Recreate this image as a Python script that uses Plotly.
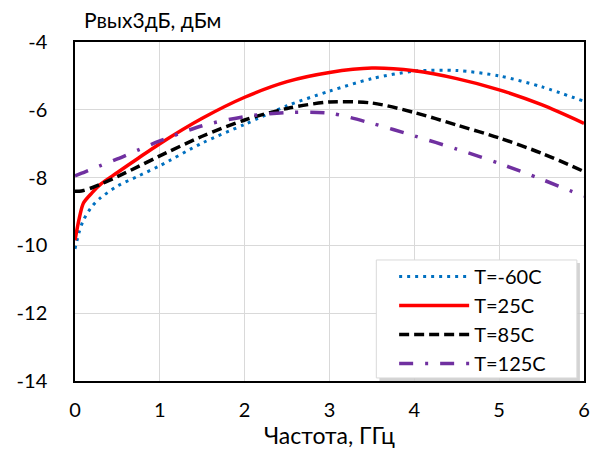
import plotly.graph_objects as go

freq = [0, 0.05, 0.1, 0.2, 0.3, 0.5, 0.75, 1, 1.5, 2, 2.5, 3, 3.5, 4, 4.5, 5, 5.5, 6]
t_m60 = [-10.1, -9.6, -9.25, -8.85, -8.6, -8.25, -7.95, -7.65, -6.98, -6.43, -5.88, -5.45, -5.08, -4.86, -4.84, -5.0, -5.32, -5.75]
t_25 = [-9.85, -9.2, -8.75, -8.45, -8.2, -7.85, -7.42, -7.0, -6.25, -5.63, -5.17, -4.9, -4.77, -4.85, -5.08, -5.41, -5.85, -6.4]
t_85 = [-8.4, -8.4, -8.38, -8.3, -8.2, -7.97, -7.67, -7.36, -6.78, -6.3, -5.96, -5.77, -5.8, -6.08, -6.45, -6.83, -7.28, -7.82]
t_125 = [-7.95, -7.9, -7.85, -7.75, -7.65, -7.45, -7.18, -6.92, -6.47, -6.2, -6.08, -6.1, -6.4, -6.77, -7.16, -7.58, -8.05, -8.55]

names = ["T=-60C", "T=25C", "T=85C", "T=125C"]
colors = ["#0070C0", "#FF0000", "#000000", "#7030A0"]
dashes = ["3px,5px", "solid", "10px,5px", "14px,12px,3px,12px"]
widths = [3, 3.5, 3.5, 3.5]

x_ticks = [0, 1, 2, 3, 4, 5, 6]
x_labels = ["0", "1", "2", "3", "4", "5", "6"]
y_ticks = [-14, -12, -10, -8, -6, -4]
y_labels = ["-14", "-12", "-10", "-8", "-6", "-4"]

FONT = "Lato"

fig = go.Figure()
for ys, n, c, d, w in zip([t_m60, t_25, t_85, t_125], names, colors, dashes, widths):
    fig.add_trace(go.Scatter(x=freq, y=ys, name=n, mode="lines",
                             line=dict(color=c, dash=d, width=w, shape="spline", smoothing=0.8)))

# legend frame (decoration, in axis-domain fractions)
box = dict(x0=0.592, x1=0.986, y0=0.009, y1=0.357)
shadow_off = (0.006, 0.009)
shapes = [
    dict(type="rect", xref="x domain", yref="y domain",
         x0=box["x0"] + shadow_off[0], x1=box["x1"] + shadow_off[0],
         y0=box["y0"] - shadow_off[1], y1=box["y1"] - shadow_off[1],
         fillcolor="#C8C8C8", line=dict(width=0), layer="above", opacity=0.8),
    dict(type="rect", xref="x domain", yref="y domain", **box,
         fillcolor="white", line=dict(color="#D9D9D9", width=1), layer="above"),
]

fig.update_layout(
    width=598, height=455,
    margin=dict(l=75, r=8, t=42, b=74),
    paper_bgcolor="white", plot_bgcolor="white",
    font=dict(family=FONT, size=20, color="#000000"),
    showlegend=True,
    legend=dict(x=0.627, y=0.366, xanchor="left", yanchor="top",
                bgcolor="rgba(0,0,0,0)", borderwidth=0,
                font=dict(family=FONT, size=20, color="#000"),
                itemwidth=70, tracegroupgap=0),
    shapes=shapes,
    annotations=[dict(text="Рвых3дБ, дБм", xref="paper", yref="paper",
                      x=0.014, y=1.065, xanchor="left", yanchor="middle",
                      showarrow=False, font=dict(family=FONT, size=21, color="#000"))],
)
fig.update_xaxes(range=[0, 6], tickvals=x_ticks, ticktext=x_labels, showgrid=True, gridcolor="#D9D9D9", gridwidth=1,
                 showline=True, linecolor="black", linewidth=1.5, mirror=True, zeroline=False,
                 ticks="", ticklabelstandoff=10,
                 title=dict(text="Частота, ГГц", font=dict(family=FONT, size=23), standoff=2))
fig.update_yaxes(range=[-14, -4], tickvals=y_ticks, ticktext=y_labels, showgrid=True, gridcolor="#D9D9D9", gridwidth=1,
                 showline=True, linecolor="black", linewidth=1.5, mirror=True, zeroline=False,
                 ticks="", ticklabelstandoff=22)

fig.write_html("out.html")
